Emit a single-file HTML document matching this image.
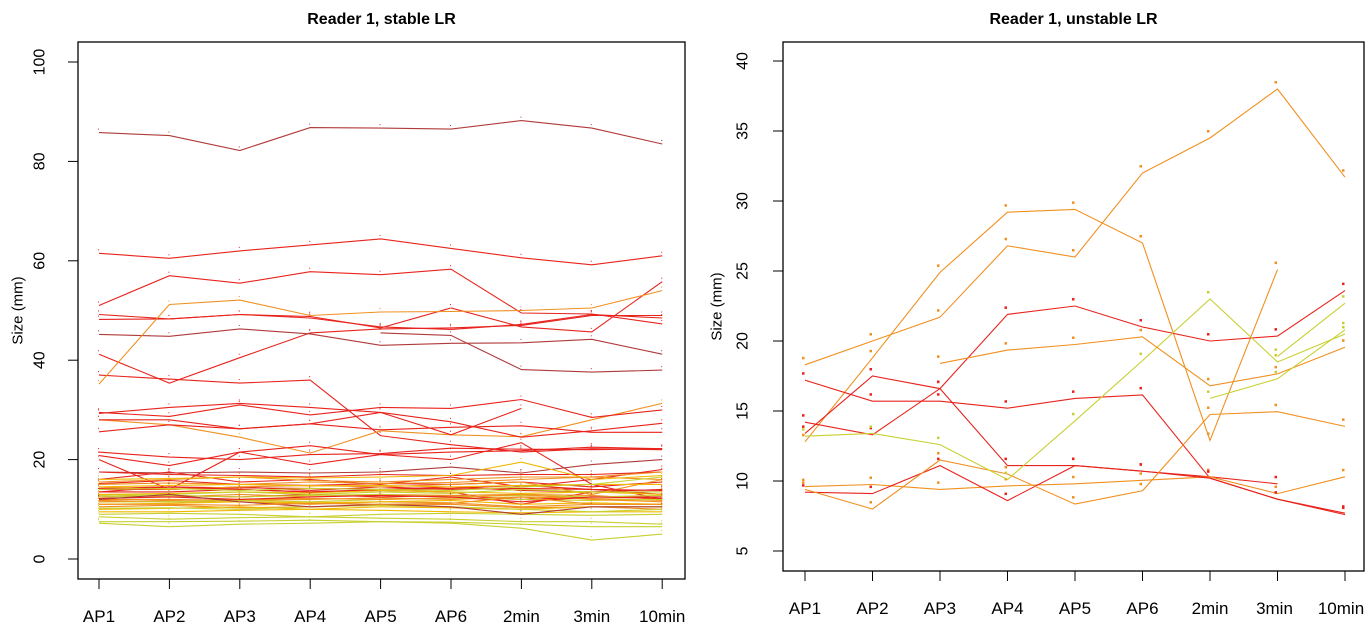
<!DOCTYPE html>
<html><head><meta charset="utf-8">
<style>
html,body{margin:0;padding:0;background:#fff;}
svg{display:block;font-family:"Liberation Sans",Arial,sans-serif;}
</style></head>
<body>
<svg id="c" width="1370" height="637" viewBox="0 0 1370 637">
<g id="left"></g>
<g id="right"></g>
</svg>
<script>
const categories = ["AP1","AP2","AP3","AP4","AP5","AP6","2min","3min","10min"];
const leftTicks = [0,20,40,60,80,100];
const rightTicks = [5,10,15,20,25,30,35,40];

const R="#e8231c", D="#b03a3a", O="#f09020", G="#f0b800", Y="#c8d030";
const leftColors = [D,R,R,R,R,R,R,D,D,O,O,R,R,R,R,R,R,D,R,R,
 R,R,R,R,R,R,O,O,O,O,O,O,G,G,G,G,Y,Y,Y,Y,Y,Y,Y,O,R,G,Y,O,R,G,Y,D,O];
const leftValues = [
 [85.8,85.2,82.2,86.8,86.7,86.5,88.2,86.7,83.5],
 [61.5,60.5,62,63.2,64.4,62.5,60.6,59.2,61],
 [51,57,55.5,57.8,57.2,58.3,49.5,49.3,47.3],
 [49.2,48.3,49.2,48.8,46.5,50.5,46.7,45.7,55.8],
 [48.2,48.3,49.2,48.5,46.7,46.2,47.2,49.2,48.5],
 [41.2,35.4,40.5,45.5,46.3,46.5,47,49,49],
 [37,36.2,35.4,36,24.8,23,21.5,22.2,22],
 [45.2,44.8,46.3,45.3,43,43.4,43.5,44.2,41.2],
 [null,null,null,null,45.5,45,38.1,37.6,38],
 [35.2,51.2,52.1,49,49.7,49.8,50,50.5,54],
 [28,27,24.5,21.3,25.8,25,24.6,28,31.3],
 [29.3,30.5,31.3,30.5,29.5,25,30.3,null,null],
 [29.5,28.7,31,29,30.5,30.3,32.1,28.5,30],
 [28,28,26.2,27.2,29.5,27.6,24.5,25.8,27.3],
 [25.6,27,26.2,27.2,26,26.5,26.8,25.5,25.5],
 [21.5,20.5,20,21,21.2,22.3,22.1,22,22.2],
 [20.8,18.8,21.5,22.8,21,20,23.4,15,12],
 [17.5,17.3,17.5,17.3,17.5,18.5,17.3,19,20],
 [20,14,21.5,19,21,21.5,21.8,22.5,22.2],
 [17.5,17,16.8,16.5,17,16.8,17,17,17.5],
 [16,17.5,15.5,16,15,16.5,14.5,16,18],
 [14.2,14.5,14.3,14.2,14,14.5,13.8,13.5,14],
 [13.5,13.5,14,13.5,13.8,13.5,11,13.5,13.5],
 [15.2,15.8,15,14.8,15.2,15,15.5,14.5,15.5],
 [12.5,12.8,12.5,13,12.5,12.8,12,12.5,12.5],
 [14,14,14.5,13.8,14.5,14,14.2,14,13],
 [14.5,14,14.5,14.8,14.5,15,15.5,13,16],
 [13,12.5,13,12.5,13,12.8,13,12.8,12],
 [11.8,11.5,11.5,11,11.5,11.3,10.5,11,11],
 [15.5,16,16.5,15.8,15.5,16,16.5,16.5,17.5],
 [10.5,10.8,10.3,10.5,10.8,11,10.3,10.5,10],
 [12,12,11.8,12,12.3,12,12.5,12.2,11.8],
 [11,11.2,11.5,11.3,11.5,11.8,11,11.3,11],
 [10,10.2,10.5,10,10.5,10.3,10,10.5,10.5],
 [9.5,9.5,9.8,10,9.8,9.5,9.3,9.5,9.5],
 [13,13.2,13.5,13.3,13.8,13.5,13.2,13.5,13],
 [12.5,12.8,12.5,12.8,13,12.5,12.8,12.5,12.8],
 [11.5,11.5,11.8,11.5,12,12.3,12,11.8,12],
 [10.2,10.3,10,10.5,10.8,10.5,10,9.5,10],
 [9,9.2,9,8.5,9,9.2,9,8.8,9],
 [8.5,8,8.3,8.5,8.2,8,7.5,7.5,7],
 [7.5,7.5,7.6,7.8,7.5,7.4,7,6.5,6.5],
 [7.2,6.5,7,7.2,7.5,7.2,6.2,3.8,5],
 [15,15.3,15,15.5,15.2,15.4,16,16.5,16],
 [13.5,14.5,14,13.5,14,14.2,14.8,14,13.8],
 [14.5,14.8,15,14.7,14.8,14.5,14.8,15,15],
 [12.8,13,13.5,13,13.5,13.2,14,13.5,13.5],
 [11.5,11.8,12,12.2,12,12.3,13,12,11.5],
 [12.2,12.5,12,12.5,12.8,12.5,11.5,12.5,12.2],
 [16,16.2,16.5,16.3,16.5,16.8,19.5,16,16.8],
 [14,14.2,13.8,14.2,14,13.8,14.5,15,16.5],
 [12,13,11.5,10.5,11,10.5,9,10.5,10.5],
 [11,11,10.8,11.2,11,11.2,12.5,11,11]
];

const rightColors = [O,O,R,R,R,O,R,O,Y,O,Y,Y];
const rightValues = [
 [18.3,20.0,21.7,26.8,26.0,32.0,34.5,38.0,31.7],
 [12.8,18.8,24.9,29.2,29.4,27.0,12.9,25.1,null],
 [17.2,15.7,15.7,15.2,15.9,16.15,10.2,8.7,7.6],
 [13.4,17.5,16.6,21.9,22.5,21.0,20.0,20.35,23.6],
 [14.2,13.3,16.6,11.1,11.1,10.7,10.3,9.8,null],
 [9.6,9.75,9.4,9.65,9.8,10.05,10.3,9.1,10.3],
 [9.2,9.1,11.1,8.6,11.1,10.7,10.2,8.7,7.7],
 [9.4,8.0,11.5,10.5,8.35,9.3,14.75,14.95,13.9],
 [13.2,13.4,12.6,10.1,14.3,18.6,23.0,18.5,20.5],
 [null,null,18.4,19.35,19.75,20.3,16.8,17.65,19.55],
 [null,null,null,null,null,null,15.9,17.3,20.8],
 [null,null,null,null,null,null,null,18.9,22.7]
];

const NS="http://www.w3.org/2000/svg";
function mk(tag, attrs, parent){const e=document.createElementNS(NS,tag);for(const k in attrs)e.setAttribute(k,attrs[k]);parent.appendChild(e);return e;}

function panel(g, cfg){
  const xS=i=>cfg.x0+cfg.dx*i;
  const yS=v=>cfg.y0-(v-cfg.v0)*cfg.py;
  const t=mk("text",{x:(cfg.fl+cfg.fr)/2,y:24,"text-anchor":"middle","font-size":"16","font-weight":"bold",fill:"#000"},g);
  t.textContent=cfg.title;
  
  
  const f=mk("rect",{x:cfg.fl,y:cfg.ft,width:cfg.fr-cfg.fl,height:cfg.fb-cfg.ft,fill:"none",stroke:"#000","stroke-width":"1.3"},g);
  
  
  cfg.yt.forEach(v=>{
    const y=yS(v);
    mk("line",{x1:cfg.fl-10,x2:cfg.fl,y1:y,y2:y,stroke:"#000"},g);
    const lx=cfg.fl-cfg.ytOff;
    const tx=mk("text",{x:lx,y:y,"text-anchor":"middle","font-size":"16",fill:"#000",transform:`rotate(-90 ${lx} ${y})`,"dominant-baseline":"central"},g);
    tx.textContent=v;
    
    
  });
  const yl=mk("text",{x:cfg.ylx,y:(cfg.ft+cfg.fb)/2,"text-anchor":"middle","font-size":"15",fill:"#000",transform:`rotate(-90 ${cfg.ylx} ${(cfg.ft+cfg.fb)/2})`,"dominant-baseline":"central"},g);
  yl.textContent="Size (mm)";
  
  
  categories.forEach((c,i)=>{
    const x=xS(i);
    mk("line",{x1:x,x2:x,y1:cfg.fb,y2:cfg.fb+10,stroke:"#000"},g);
    const tx=mk("text",{x:x+cfg.lblOff[i],y:cfg.lby,"text-anchor":"middle","font-size":"17",fill:"#000"},g);
    tx.textContent=c;
    
    
  });
  cfg.vals.forEach((s,si)=>{
    let d="",pen=false;
    s.forEach((v,i)=>{
      if(v===null){pen=false;return;}
      d+=(pen?"L":"M")+xS(i).toFixed(1)+" "+yS(v).toFixed(1)+" ";pen=true;
    });
    const p=mk("path",{d:d,fill:"none",stroke:cfg.cols[si%cfg.cols.length],"stroke-width":"1.1"},g);
    
    
    s.forEach((v,i)=>{
      if(v===null)return;
      const r=mk("rect",{x:xS(i)-cfg.dotOff,y:yS(v)-cfg.dotUp,width:cfg.dotSz,height:cfg.dotSz,fill:cfg.cols[si%cfg.cols.length]},g);
      
      
    });
  });
}

panel(document.getElementById("left"),{
  title:"Reader 1, stable LR",fl:78,fr:685,ft:42,fb:579,x0:99,dx:70.4,y0:559,v0:0,py:4.97,
  yt:leftTicks,ytOff:38,ylx:18,lby:622,lblOff:[0,0,0,0,0,0,0,0,0],vals:leftValues,cols:leftColors,dotOff:1,dotUp:4,dotSz:1
});
panel(document.getElementById("right"),{
  title:"Reader 1, unstable LR",fl:783,fr:1364,ft:42,fb:571,x0:805,dx:67.5,y0:551,v0:5,py:14,
  yt:rightTicks,ytOff:40,ylx:717,lby:614,lblOff:[0,0,0,0,0,0,0,-3,-4],vals:rightValues,cols:rightColors,dotOff:3,dotUp:8,dotSz:2.5
});
</script>
</body></html>
